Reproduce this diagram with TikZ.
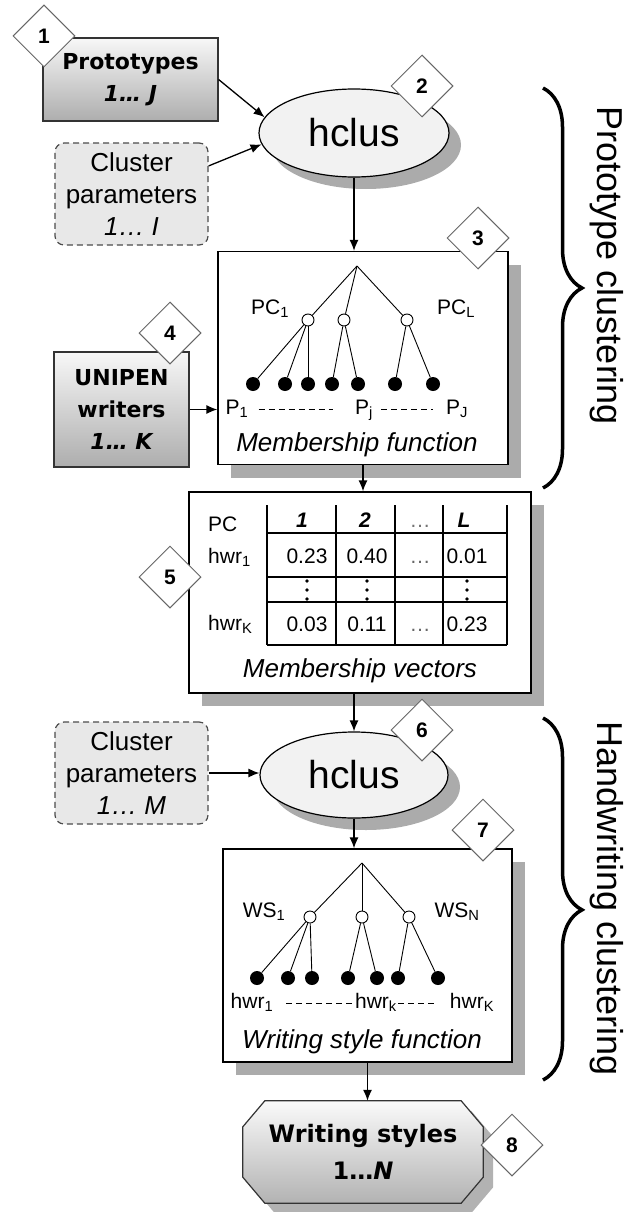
\documentclass[tikz,border=0pt]{standalone}
\usepackage{fontspec}
\setmainfont{Liberation Sans}
\newfontfamily\boxfont{DejaVu Sans}
\usetikzlibrary{shapes.geometric,shadows,arrows.meta,decorations.pathreplacing,backgrounds}

\newcommand\fsz[2]{\fontsize{#1}{#2}\selectfont}

\tikzset{
  numbox/.style={diamond,draw=black!60,line width=1pt,fill=white,inner sep=0pt,
    minimum size=62pt,font=\fsz{21}{21}\bfseries},
  srcbox/.style={rectangle,draw=black!80,line width=1.2pt,top color=black!3,
    bottom color=black!32,align=center,font=\boxfont\fsz{22}{32}\bfseries},
  parambox/.style={rectangle,rounded corners=9pt,draw=black!70,line width=1.2pt,
    dash pattern=on 6pt off 4pt,fill=black!9,align=center,minimum width=153pt,
    minimum height=102pt,font=\fsz{26}{32}},
  hclus/.style={ellipse,draw,line width=1.2pt,fill=black!5,font=\fsz{39}{39},
    drop shadow={shadow xshift=12pt,shadow yshift=-12pt,fill=black!33,opacity=1}},
  panel/.style={rectangle,draw,line width=1.3pt,fill=white,
    drop shadow={shadow xshift=13pt,shadow yshift=-13pt,fill=black!33,opacity=1}},
  octo/.style={draw=black!80,line width=1.2pt,top color=black!2,bottom color=black!30,
    drop shadow={shadow xshift=10pt,shadow yshift=-10pt,fill=black!30,opacity=1}},
  flow/.style={-{Latex[length=11pt,width=9pt]},line width=1.3pt},
  knot/.style={circle,draw,line width=0.9pt,fill=white,inner sep=0pt,minimum size=12pt},
  leaf/.style={circle,fill=black,inner sep=0pt,minimum size=14pt},
  twig/.style={line width=0.9pt},
  gap/.style={line width=1pt,dash pattern=on 6pt off 4pt},
  lbl/.style={anchor=base,inner sep=0pt,font=\fsz{21}{21}},
  capt/.style={anchor=base,inner sep=0pt,font=\fsz{26}{26}\itshape},
  phase/.style={decorate,decoration={brace,amplitude=39pt},line width=3.5pt},
  phasetxt/.style={rotate=-90,font=\fsz{36}{36}}
}

\begin{document}
\begin{tikzpicture}[x=1pt,y=-1pt]
  \useasboundingbox (0,0) rectangle (642,1212);

  % prototype clustering
  \node (proto) at (130.5,79.5)[srcbox,minimum width=175pt,minimum height=83pt]
    {Prototypes\\{\itshape 1\dots\ J}};
  \node (par1) at (131.5,194)[parambox]{Cluster\\parameters\\{\itshape 1\dots\ I}};
  \node (hc1) at (354,133)[hclus,minimum width=190pt,minimum height=88pt]{hclus};
  \node (memb) at (363,358)[panel,minimum width=290pt,minimum height=213pt]{};
  \node (unipen) at (121.5,409.5)[srcbox,minimum width=135pt,minimum height=115pt]
    {UNIPEN\\writers\\{\itshape 1\dots\ K}};

  \coordinate (ptop) at (357,266);
  \foreach \x/\n in {308/pca,344/pcb,407/pcc}
  { \node (\n) at (\x,320)[knot]{};
    \draw[twig] (ptop) -- (\n); }
  \foreach \x/\n [count=\i] in {253/pca,285/pca,308/pca,332/pcb,358/pcb,395/pcc,433/pcc}
  { \node (pl\i) at (\x,384)[leaf]{};
    \draw[twig] (\n) -- (pl\i); }
  \node (pcone) at (270,314)[lbl]{PC\textsubscript{1}};
  \node (pclast) at (456,314)[lbl]{PC\textsubscript{L}};
  \node (pa) at (237,414)[lbl]{P\textsubscript{1}};
  \node (pb) at (364,414)[lbl]{P\textsubscript{j}};
  \node (pc) at (457,414)[lbl]{P\textsubscript{J}};
  \draw[gap,shorten <=10pt,shorten >=22pt] ([yshift=5pt]pa.base east) -- ([yshift=5pt]pb.base west);
  \draw[gap,shorten <=8pt,shorten >=13pt] ([yshift=5pt]pb.base east) -- ([yshift=5pt]pc.base west);
  \node (mfun) at (357,451)[capt]{Membership function};

  % membership vectors
  \node (vec) at (360,592.5)[panel,minimum width=342pt,minimum height=201pt]{};
  \foreach \x in {267,336,395,443,507}
    \draw[line width=1.2pt] (\x,505) -- (\x,645);
  \foreach \y in {533,577,602,645}
    \draw[line width=1.2pt] (267,\y) -- (507,\y);
  \node (pch) at (208,531)[lbl,anchor=base west]{PC};
  \node (hwa) at (208,563)[lbl,anchor=base west]{hwr\textsubscript{1}};
  \node (hwb) at (208,630)[lbl,anchor=base west]{hwr\textsubscript{K}};
  \foreach \x/\t [count=\i] in {302/1,365/2,464/L}
    \node (col\i) at (\x,527)[lbl,font=\fsz{21}{21}\bfseries\itshape]{\t};
  \node (colx) at (420,527)[lbl,text=black!55]{\dots};
  \foreach \x/\a/\b [count=\i] in {307/0.23/0.03,367/0.40/0.11,467/0.01/0.23}
  { \node (va\i) at (\x,563)[lbl]{\a};
    \node (vb\i) at (\x,631)[lbl]{\b};
    \foreach \y in {581,590,599}
      \fill (\x,\y) circle (1.8pt); }
  \node (vax) at (420,563)[lbl,text=black!60]{\dots};
  \node (vbx) at (420,631)[lbl,text=black!60]{\dots};
  \node (mvec) at (360,677)[capt]{Membership vectors};

  % handwriting clustering
  \node (par2) at (131.5,773)[parambox]{Cluster\\parameters\\{\itshape 1\dots\ M}};
  \node (hc2) at (354,775)[hclus,minimum width=188pt,minimum height=86pt]{hclus};
  \node (wsf) at (367.5,955.5)[panel,minimum width=289pt,minimum height=213pt]{};

  \coordinate (wtop) at (362,863);
  \foreach \x/\n in {310/wsa,362/wsb,409/wsc}
  { \node (\n) at (\x,917)[knot]{};
    \draw[twig] (wtop) -- (\n); }
  \foreach \x/\n [count=\i] in {257/wsa,288/wsa,312/wsa,348/wsb,377/wsb,398/wsc,438/wsc}
  { \node (wl\i) at (\x,978)[leaf]{};
    \draw[twig] (\n) -- (wl\i); }
  \node (wsone) at (264,917)[lbl]{WS\textsubscript{1}};
  \node (wslast) at (457,917)[lbl]{WS\textsubscript{N}};
  \node (ha) at (252,1008)[lbl]{hwr\textsubscript{1}};
  \node (hb) at (376,1008)[lbl]{hwr\textsubscript{k}};
  \node (hc) at (472,1008)[lbl]{hwr\textsubscript{K}};
  \draw[gap,shorten <=13pt,shorten >=3pt] ([yshift=5pt]ha.base east) -- ([yshift=5pt]hb.base west);
  \draw[gap,shorten <=1pt,shorten >=12pt] ([yshift=5pt]hb.base east) -- ([yshift=5pt]hc.base west);
  \node (wfun) at (362,1048)[capt]{Writing style function};

  \node (styles) at (363,1152)[minimum width=240pt,minimum height=102pt,align=center,
    font=\boxfont\fsz{24}{37}\bfseries]{Writing styles\\1\dots\textit{N}};
  \begin{pgfonlayer}{background}
    \draw[octo] ([xshift=22pt]styles.north west) -- ([xshift=-22pt]styles.north east)
      -- ([yshift=-26pt]styles.north east) -- ([yshift=26pt]styles.south east)
      -- ([xshift=-22pt]styles.south east) -- ([xshift=22pt]styles.south west)
      -- ([yshift=26pt]styles.south west) -- ([yshift=-26pt]styles.north west) -- cycle;
  \end{pgfonlayer}

  % step numbers
  \foreach \n/\x/\y in {1/44/36,2/422/86,3/478/238,4/170/333,5/170/577,6/422/730,7/483/830,8/512/1145}
    \node (step\n) at (\x,\y)[numbox]{\n};

  % connectors
  \draw[flow] (proto.east) -- (hc1.170);
  \draw[flow] (par1.20) -- (hc1.187);
  \draw[flow] (hc1.south) -- (hc1.south |- memb.north);
  \draw[flow] (unipen.east) -- (unipen.east -| memb.west);
  \draw[flow] (memb.south) -- (memb.south |- vec.north);
  \draw[flow] (hc2.north |- vec.south) -- (hc2.north);
  \draw[flow] (par2.east) -- (par2.east -| hc2.west);
  \draw[flow] (hc2.south) -- (hc2.south |- wsf.north);
  \draw[flow] (wsf.south) -- (wsf.south |- styles.north);

  % phases
  \coordinate (pb1) at (543,88);
  \coordinate (pb2) at (543,488);
  \draw[phase] (pb1) -- (pb2);
  \node (ptxt) at (607,266)[phasetxt]{Prototype clustering};
  \coordinate (hb1) at (543,718);
  \coordinate (hb2) at (543,1080);
  \draw[phase,decoration={aspect=0.53}] (hb1) -- (hb2);
  \node (htxt) at (607,899)[phasetxt]{Handwriting clustering};
\end{tikzpicture}
\end{document}
